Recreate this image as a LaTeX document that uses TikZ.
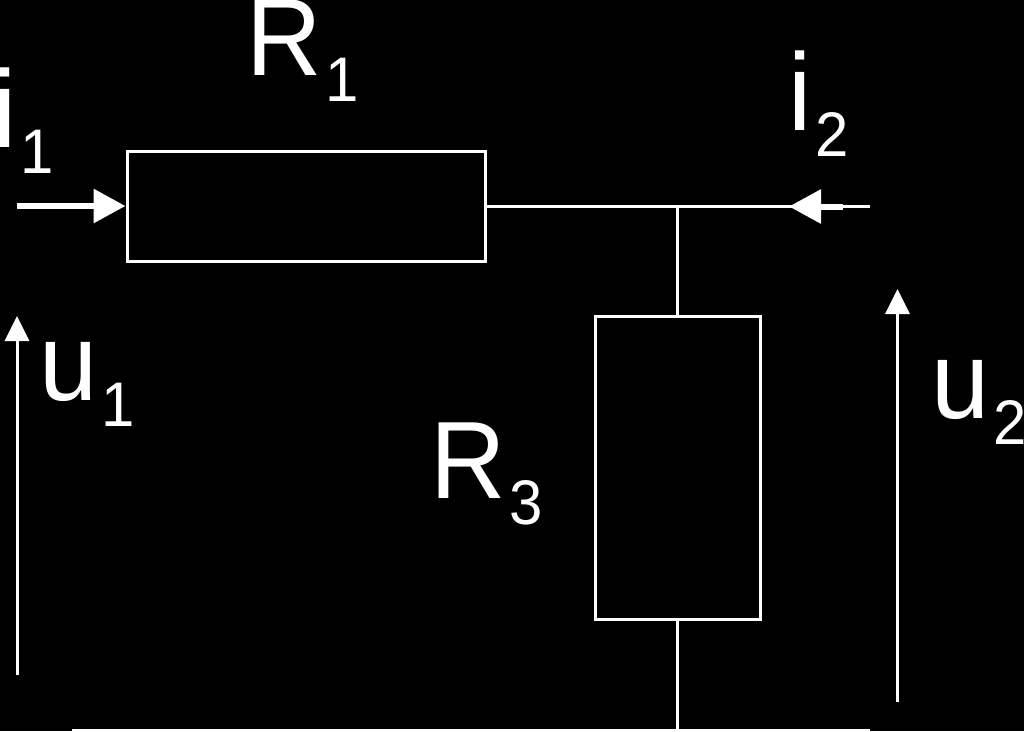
\documentclass[tikz,border=0pt]{standalone}
\usepackage{fontspec}
\setmainfont[FakeStretch=0.95]{Liberation Sans}
\usetikzlibrary{arrows.meta}
\newcommand{\lab}[2]{\fontsize{110}{110}\selectfont #1\kern4pt\raisebox{-26.5pt}{\fontsize{63}{63}\selectfont #2}}
\tikzset{
  x=1pt,y=-1pt,
  wire/.style={draw=white,line width=3pt},
  res/.style={draw=white,line width=3pt,fill=black,inner sep=0pt,outer sep=0pt,anchor=north west},
  lbl/.style={text=white,inner sep=0pt,anchor=base west},
  thin arrow/.style={draw=white,line width=3pt,-{Triangle[length=25pt,width=24pt]}},
  thick arrow/.style={draw=white,line width=6pt,-{Triangle[length=32pt,width=33pt]}}
}
\begin{document}
\begin{tikzpicture}
\useasboundingbox[fill=black] (0,0) rectangle (1024,731);
\node[res,minimum width=358pt,minimum height=110.5pt] (r1) at (127,151) {};
\node[res,minimum width=165pt,minimum height=303.5pt] (r3) at (595,316) {};
\coordinate (j) at (677.5,206.5);
\coordinate (in1) at (17,206);
\coordinate (in2) at (870,206.5);
\coordinate (in2m) at (843,206.5);
\coordinate (in2t) at (789,206.5);
\coordinate (b1) at (72,730);
\coordinate (b2) at (870,730);
\coordinate (bj) at (677.5,730);
\coordinate (u1a) at (17,675);
\coordinate (u1b) at (17,316);
\coordinate (u2a) at (897.5,702);
\coordinate (u2b) at (897.5,289);
\draw[wire] (r1.east |- j) -- (in2);
\draw[wire] (j) -- (r3.north);
\draw[wire] (r3.south) -- (bj);
\draw[wire] (b1) -- (b2);
\draw[thick arrow,shorten >=1.5pt] (in1) -- (r1.west |- in1);
\draw[thick arrow] (in2m) -- (in2t);
\draw[thin arrow] (u1a) -- (u1b);
\draw[thin arrow] (u2a) -- (u2b);
\node[lbl] (lr1) at (246,75) {\lab{R}{1}};
\node[lbl] (lr3) at (430,498) {\lab{R}{3}};
\node[lbl] (li1) at (-7,147) {\lab{i}{1}};
\node[lbl] (li2) at (788,130) {\lab{i}{2}};
\node[lbl] (lu1) at (39,400) {\lab{u}{1}};
\node[lbl] (lu2) at (931,418) {\lab{u}{2}};
\end{tikzpicture}
\end{document}
